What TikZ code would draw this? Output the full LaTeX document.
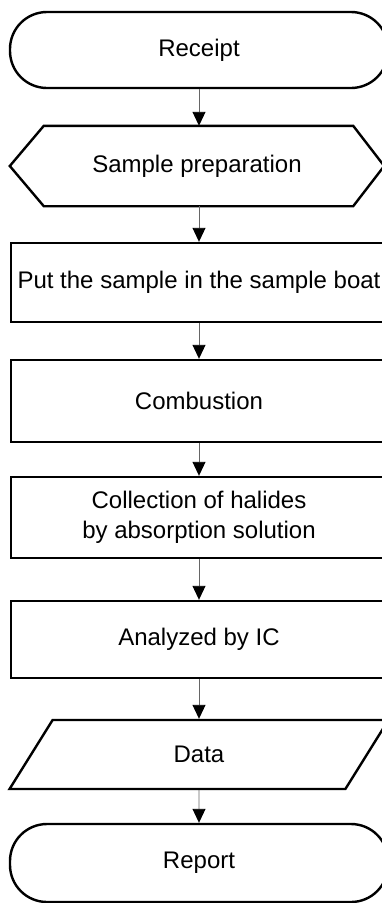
\documentclass[tikz,border=0pt]{standalone}
\usepackage{fontspec}
\setmainfont{Liberation Sans}
\usetikzlibrary{arrows.meta,shapes.geometric,calc}

\tikzset{
  box/.style={draw,line width=2.4pt,minimum width=376pt,minimum height=80pt,inner sep=0pt,align=center,font=\fontsize{24}{30}\selectfont},
  term/.style={box,rounded corners=37pt,minimum width=378pt,minimum height=76pt},
  prepbox/.style={box,draw=none,minimum width=372pt,minimum height=78pt},
  iobox/.style={box,trapezium,trapezium left angle=66,trapezium right angle=114,trapezium stretches=true,minimum width=380pt,minimum height=69pt},
  flow/.style={draw=black!60,line width=0.9pt,-{Triangle[width=13pt,length=14pt,black]}}
}

\begin{document}
\begin{tikzpicture}[x=1pt,y=-1pt]
\useasboundingbox (0,0) rectangle (381,903);

\node (receipt) at (199,50)[term]{Receipt};
\node (prep) at (197,166)[prepbox]{Sample preparation};
\draw[line width=2.4pt,line join=miter] (prep.west) -- ($(prep.north west)+(34,0)$) -- ($(prep.north east)+(-31,0)$)
  -- (prep.east) -- ($(prep.south east)+(-31,0)$) -- ($(prep.south west)+(34,0)$) -- cycle;
\node (boat) at (199,282.5)[box,minimum height=79pt]{Put the sample in the sample boat};
\node (comb) at (199,401)[box,minimum height=82pt]{Combustion};
\node (collect) at (199,517.5)[box,minimum height=81pt]{Collection of halides\\by absorption solution};
\node (ic) at (199,639.5)[box,minimum height=77pt]{Analyzed by IC};
\node (data) at (199,754.5)[iobox]{Data};
\node (report) at (199,863)[term,minimum height=78pt]{Report};

% arrows between steps
\draw[flow] (receipt) -- (receipt|-prep.north);
\draw[flow] (prep.south-|boat) -- (boat);
\draw[flow] (boat) -- (comb);
\draw[flow] (comb) -- (collect);
\draw[flow] (collect) -- (ic);
\draw[flow] (ic) -- (data);
\draw[flow] (data) -- (report);
\end{tikzpicture}
\end{document}
